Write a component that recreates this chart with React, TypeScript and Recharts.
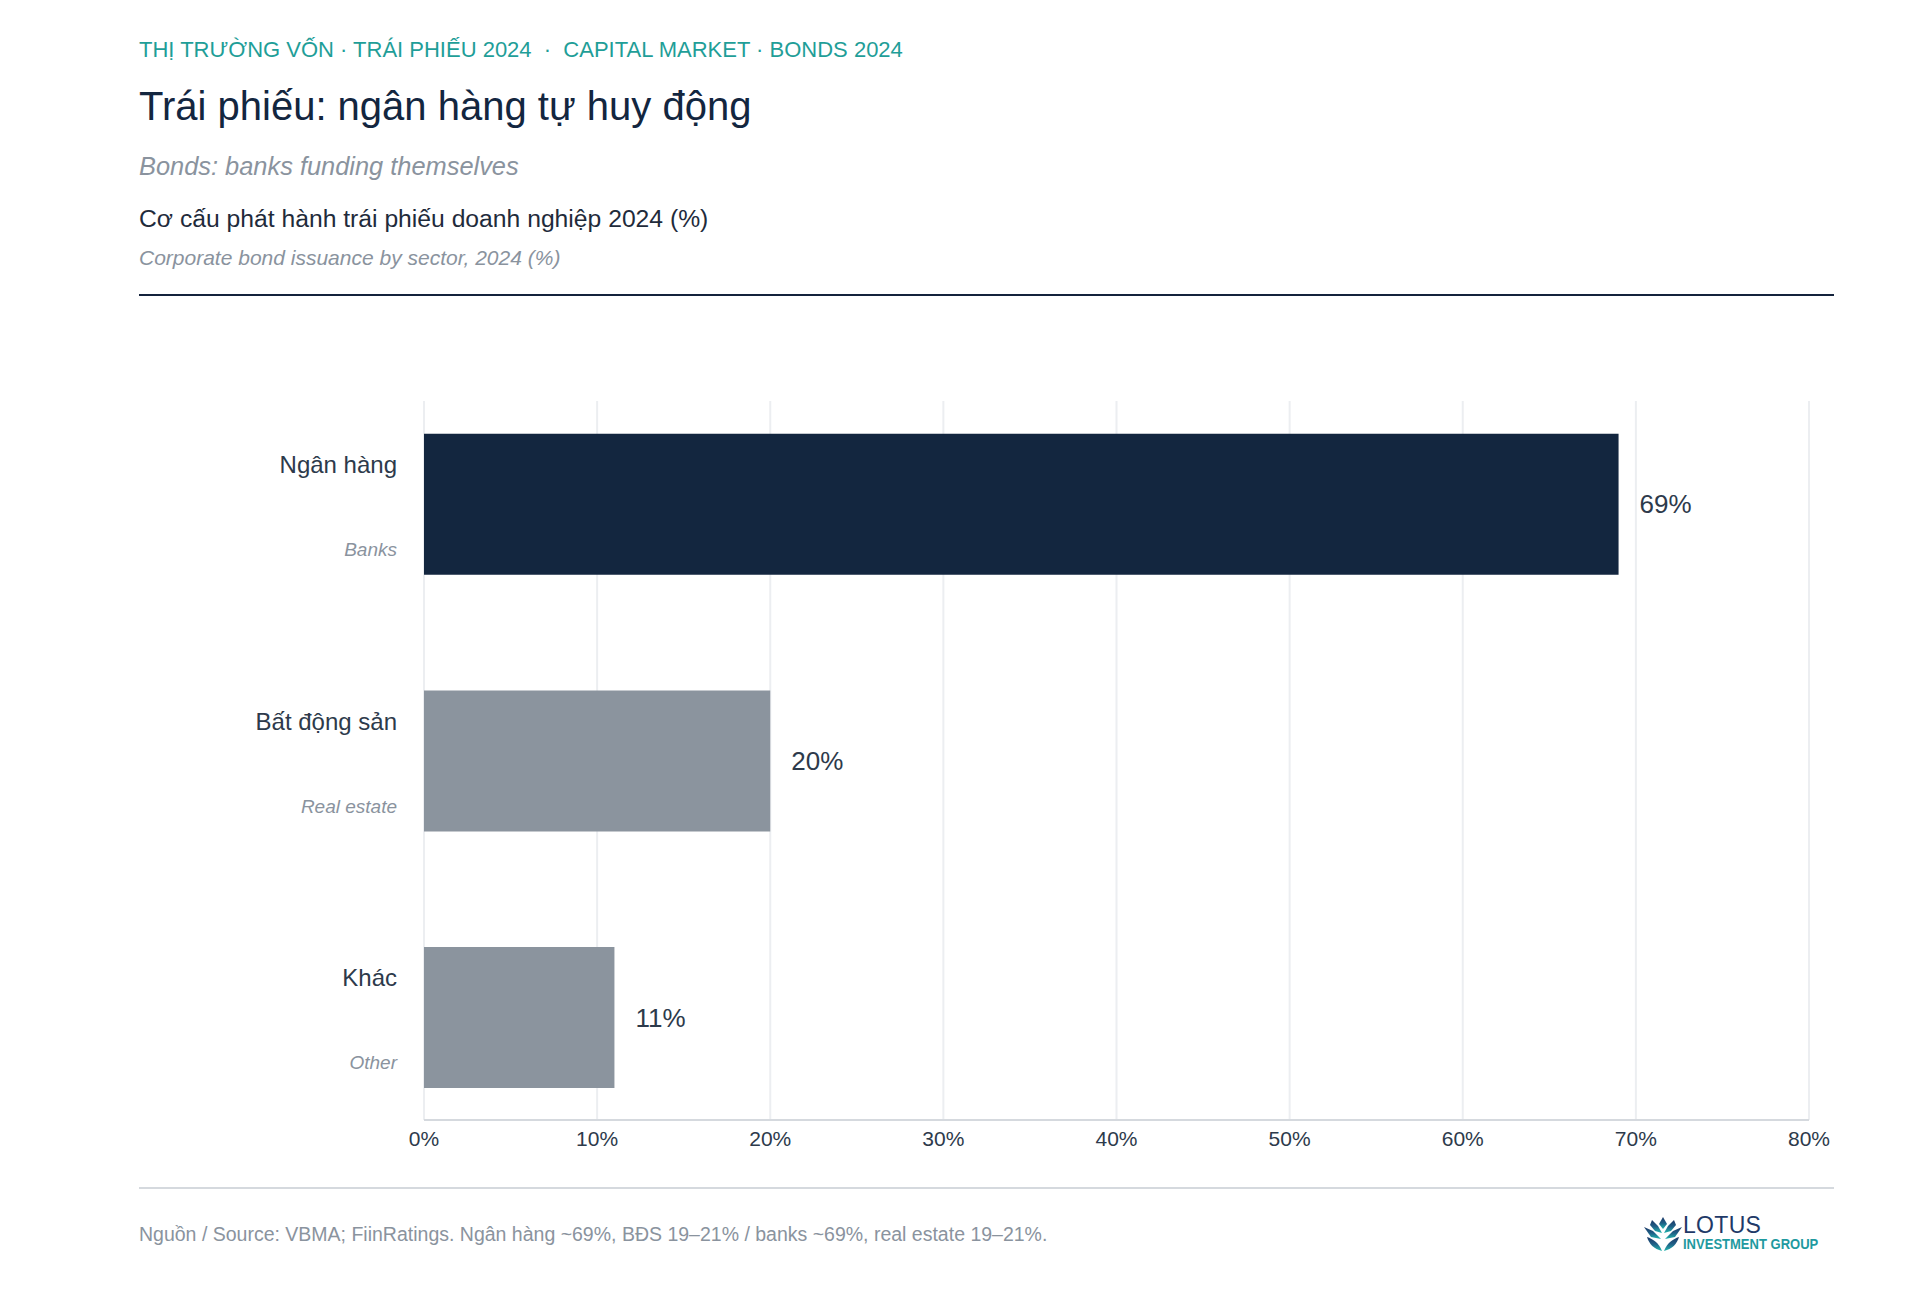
import React from 'react';
import { BarChart, Bar, XAxis, YAxis, CartesianGrid, Cell, LabelList } from 'recharts';

const sectors = ['Ngân hàng', 'Bất động sản', 'Khác'];
const sectorsEn = ['Banks', 'Real estate', 'Other'];
const shares = [69, 20, 11];
const xTicks = [0, 10, 20, 30, 40, 50, 60, 70, 80];

const data = sectors.map((name, i) => ({ name, en: sectorsEn[i], value: shares[i] }));

const FONT = '"Liberation Sans", Arial, Helvetica, sans-serif';
const NAVY = '#13263f';
const GRAY = '#8b949e';
const TEAL = '#1f9e98';
const INK = '#2d3a4b';

const SectorTick = (props: any) => {
  const { x, y, payload } = props;
  const en = sectorsEn[sectors.indexOf(payload.value)];
  return (
    <g>
      <text x={x} y={y - 40} textAnchor="end" dominantBaseline="central" fontSize={24} fill={INK} fontFamily={FONT}>
        {payload.value}
      </text>
      <text x={x} y={y + 45} textAnchor="end" dominantBaseline="central" fontSize={19} fontStyle="italic" fill="#8a939e" fontFamily={FONT}>
        {en}
      </text>
    </g>
  );
};

const Line = ({ top, color, h }: { top: number; color: string; h: number }) => (
  <div style={{ position: 'absolute', left: 139, top, width: 1695, height: h, background: color }} />
);

const TextRow = ({ top, size, color, italic, children }: any) => (
  <div
    style={{
      position: 'absolute',
      left: 139,
      top: top - size * 0.6,
      fontSize: size,
      lineHeight: `${size * 1.2}px`,
      color,
      fontStyle: italic ? 'italic' : 'normal',
      whiteSpace: 'pre',
    }}
  >
    {children}
  </div>
);

const Logo = () => (
  <div style={{ position: 'absolute', left: 1641, top: 1213, width: 190, height: 42 }}>
    <svg width={44} height={38} viewBox="0 0 44 38" style={{ position: 'absolute', left: 0, top: 2 }}>
      <defs>
        <linearGradient id="lg" x1="0" y1="0" x2="0" y2="1">
          <stop offset="0" stopColor="#1c3766" />
          <stop offset="0.5" stopColor="#1f5f86" />
          <stop offset="1" stopColor="#22b5ad" />
        </linearGradient>
      </defs>
      <path d="M22 2 L26 9 L22 14 L18 9 Z" fill="url(#lg)" />
      <path d="M11 5 L17 11 L21 18 L14 16 L9 10 Z" fill="url(#lg)" />
      <path d="M33 5 L27 11 L23 18 L30 16 L35 10 Z" fill="url(#lg)" />
      <path d="M3 12 L12 16 L20 24 L10 22 Z" fill="url(#lg)" />
      <path d="M41 12 L32 16 L24 24 L34 22 Z" fill="url(#lg)" />
      <path d="M6 22 C12 24 18 28 21 36 C13 34 8 29 6 22 Z" fill="url(#lg)" />
      <path d="M38 22 C32 24 26 28 23 36 C31 34 36 29 38 22 Z" fill="url(#lg)" />
    </svg>
    <div style={{ position: 'absolute', left: 42, top: 0, fontSize: 23, lineHeight: '24px', color: '#1f3a68', letterSpacing: 0.3 }}>
      LOTUS
    </div>
    <div style={{ position: 'absolute', left: 42, top: 23, fontSize: 14, lineHeight: '16px', color: '#1f9aa0', fontWeight: 700, transform: 'scaleX(0.93)', transformOrigin: 'left' }}>
      INVESTMENT GROUP
    </div>
  </div>
);

export default function App() {
  return (
    <div style={{ position: 'absolute', left: 0, top: 0, width: 1925, height: 1295, background: '#ffffff', fontFamily: FONT, overflow: 'hidden' }}>
      <TextRow top={50} size={22} color={TEAL}>
        {'THỊ TRƯỜNG VỐN · TRÁI PHIẾU 2024  ·  CAPITAL MARKET · BONDS 2024'}
      </TextRow>
      <TextRow top={106} size={40} color={NAVY}>
        Trái phiếu: ngân hàng tự huy động
      </TextRow>
      <TextRow top={166} size={25.4} color="#8a939e" italic>
        Bonds: banks funding themselves
      </TextRow>
      <TextRow top={219} size={24.7} color="#1f2b3b">
        Cơ cấu phát hành trái phiếu doanh nghiệp 2024 (%)
      </TextRow>
      <TextRow top={258} size={21} color="#8a939e" italic>
        Corporate bond issuance by sector, 2024 (%)
      </TextRow>
      <Line top={294} color="#14233c" h={2} />

      <div style={{ position: 'absolute', left: 0, top: 300 }}>
        <BarChart
          width={1925}
          height={900}
          data={data}
          layout="vertical"
          margin={{ top: 101, right: 116, bottom: 0, left: 0 }}
          barCategoryGap="22.5%"
        >
          <CartesianGrid horizontal={false} stroke="#eceef1" strokeWidth={2} />
          <XAxis
            type="number"
            domain={[0, 80]}
            ticks={xTicks}
            tickFormatter={(v: number) => `${v}%`}
            height={80}
            axisLine={{ stroke: '#d5d9de', strokeWidth: 2 }}
            tickLine={false}
            tickSize={0}
            tickMargin={11}
            tick={{ fontSize: 21, fill: INK, fontFamily: FONT }}
            interval={0}
          />
          <YAxis
            type="category"
            dataKey="name"
            width={424}
            axisLine={false}
            tickLine={false}
            tickSize={0}
            tickMargin={27}
            padding={{ top: -25, bottom: -26 }}
            tick={<SectorTick />}
          />
          <Bar dataKey="value" isAnimationActive={false}>
            {data.map((d, i) => (
              <Cell key={d.name} fill={i === 0 ? NAVY : GRAY} />
            ))}
            <LabelList
              dataKey="value"
              position="right"
              offset={21}
              formatter={(v: any) => `${v}%`}
              style={{ fontSize: 26, fill: INK, fontFamily: FONT }}
            />
          </Bar>
        </BarChart>
      </div>

      <Line top={1187} color="#d5d9de" h={2} />
      <TextRow top={1235} size={19.5} color="#8a939e">
        Nguồn / Source: VBMA; FiinRatings. Ngân hàng ~69%, BĐS 19–21% / banks ~69%, real estate 19–21%.
      </TextRow>
      <Logo />
    </div>
  );
}
